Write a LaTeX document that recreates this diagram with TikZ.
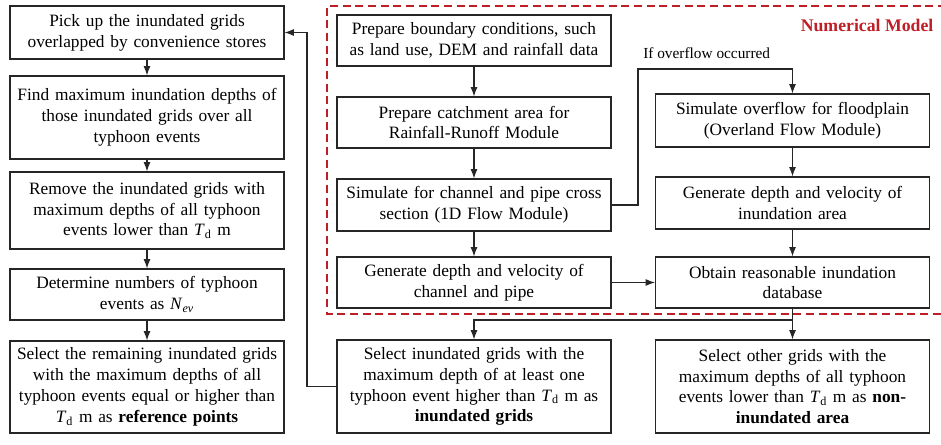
\documentclass[tikz,border=0pt]{standalone}
\usepackage{fontspec}
\setmainfont{Liberation Serif}
\usetikzlibrary{arrows.meta}
\definecolor{nmred}{RGB}{192,30,38}
\newcommand{\Td}{\textit{T}\textsubscript{d}}
\begin{document}
\begin{tikzpicture}[x=0.75pt,y=-0.75pt,
  box/.style={draw=black!85, line width=0.8pt, inner sep=0pt, align=center,
    minimum width={274*0.75pt}, text width={268*0.75pt},
    font=\fontsize{13pt}{15.6pt}\selectfont},
  arr/.style={draw=black!85, line width=0.8pt, -{Latex[length=7pt,width=5.2pt]}},
  ln/.style={draw=black!85, line width=0.8pt},
  dashbox/.style={draw=nmred, line width=0.8pt, dash pattern=on 6pt off 3.5pt}]
\useasboundingbox (0,0) rectangle (941,445);
% dashed frame of the numerical model
\draw[dashbox] (946,6) -- (327,6) -- (327,314) -- (946,314);
\node[anchor=east, text=nmred, font=\fontsize{13.3pt}{15pt}\selectfont\bfseries] (nm) at (938,25) {Numerical Model};
% left column
\node[box, minimum height={53*0.75pt}] (L1) at (147,32.5) {Pick up the inundated grids\\overlapped by convenience stores};
\node[box, minimum height={83*0.75pt}] (L2) at (147,117.5) {Find maximum inundation depths of\\those inundated grids over all\\typhoon events};
\node[box, minimum height={77*0.75pt}] (L3) at (147,210.5) {Remove the inundated grids with\\maximum depths of all typhoon\\events lower than \Td{} m};
\node[box, minimum height={51*0.75pt}] (L4) at (147,294.5) {Determine numbers of typhoon\\events as \textit{N}\textsubscript{\textit{ev}}};
\node[box, minimum height={92*0.75pt}] (L5) at (147,387) {Select the remaining inundated grids\\with the maximum depths of all\\typhoon events equal or higher than\\\Td{} m as \textbf{reference points}};
% middle column
\node[box, minimum height={51*0.75pt}] (M1) at (474,40.5) {Prepare boundary conditions, such\\as land use, DEM and rainfall data};
\node[box, minimum height={51*0.75pt}] (M2) at (474,122.5) {Prepare catchment area for\\Rainfall-Runoff Module};
\node[box, minimum height={52*0.75pt}] (M3) at (474,205) {Simulate for channel and pipe cross\\section (1D Flow Module)};
\node[box, minimum height={51*0.75pt}] (M4) at (474,282.5) {Generate depth and velocity of\\channel and pipe};
\node[box, minimum height={93*0.75pt}] (B2) at (474,386.5) {Select inundated grids with the\\maximum depth of at least one\\typhoon event higher than \Td{} m as\\\textbf{inundated grids}};
% right column
\node[box, minimum height={53*0.75pt}] (R1) at (792.5,120.5) {Simulate overflow for floodplain\\(Overland Flow Module)};
\node[box, minimum height={52*0.75pt}] (R2) at (792.5,203) {Generate depth and velocity of\\inundation area};
\node[box, minimum height={51*0.75pt}] (R3) at (792.5,282.5) {Obtain reasonable inundation\\database};
\node[box, minimum height={93*0.75pt}] (B3) at (792.5,386.5) {Select other grids with the\\maximum depths of all typhoon\\events lower than \Td{} m as \textbf{non-}\\\textbf{inundated area}};
% label
\node[anchor=west, inner sep=0pt, font=\fontsize{11.5pt}{14pt}\selectfont] (ovl) at (643,53) {If overflow occurred};
% connectors
\draw[arr] (L1) -- (L2);
\draw[arr] (L2) -- (L3);
\draw[arr] (L3) -- (L4);
\draw[arr] (L4) -- (L5);
\draw[arr] (M1) -- (M2);
\draw[arr] (M2) -- (M3);
\draw[arr] (M3) -- (M4);
\coordinate (ov) at (638,69);
\draw[arr] (M3.east) -| (ov) -| (R1.north);
\draw[arr] (R1) -- (R2);
\draw[arr] (R2) -- (R3);
\draw[arr] (M4.east) -- (R3.west);
\draw[arr] (R3.south) -- (B3.north);
\coordinate (jn) at (792.5,320);
\draw[arr] (jn) -| (B2.north);
\coordinate (fb) at (307,32.5);
\draw[arr] (B2.west) -| (fb) -- (L1.east);
\end{tikzpicture}
\end{document}
